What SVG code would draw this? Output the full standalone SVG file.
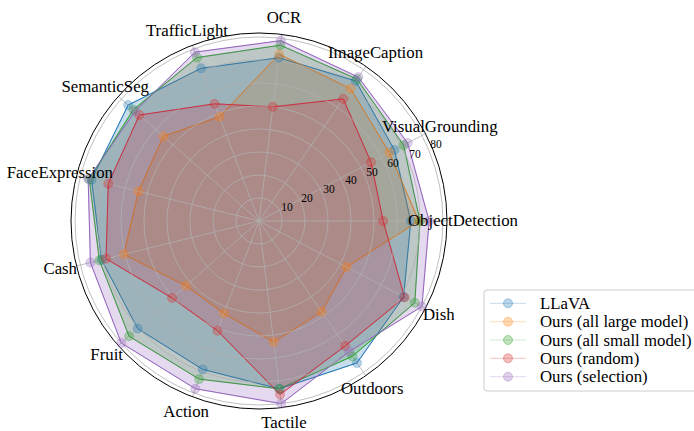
<svg xmlns="http://www.w3.org/2000/svg" width="694" height="431" viewBox="0 0 694 431" font-family="'Liberation Serif', 'Times New Roman', serif">
<style>
.cat{font-size:16.8px;font-family:"Liberation Serif",serif}
.tick{font-size:11.5px;font-family:"Liberation Serif",serif}
.leg{font-size:16.8px;font-family:"Liberation Serif",serif}
.grid{stroke:#b0b0b0;stroke-width:0.8;fill:none}
.fill{stroke:none;fill-opacity:0.25}
.ln{fill:none;stroke-width:1.2;stroke-opacity:0.22;stroke-linejoin:round}
.mk{fill-opacity:0.3;stroke-opacity:0.35;stroke-width:1}
.b{fill:#1f77b4;stroke:#1f77b4}
.o{fill:#ff7f0e;stroke:#ff7f0e}
.g{fill:#2ca02c;stroke:#2ca02c}
.r{fill:#d62728;stroke:#d62728}
.p{fill:#9467bd;stroke:#9467bd}
</style>
<defs>
<marker id="mb" markerWidth="12" markerHeight="12" refX="6" refY="6" markerUnits="userSpaceOnUse"><circle cx="6" cy="6" r="4.5" fill="#1f77b4" fill-opacity="0.3" stroke="#1f77b4" stroke-opacity="0.3"/></marker>
<marker id="mo" markerWidth="12" markerHeight="12" refX="6" refY="6" markerUnits="userSpaceOnUse"><circle cx="6" cy="6" r="4.5" fill="#ff7f0e" fill-opacity="0.3" stroke="#ff7f0e" stroke-opacity="0.3"/></marker>
<marker id="mg" markerWidth="12" markerHeight="12" refX="6" refY="6" markerUnits="userSpaceOnUse"><circle cx="6" cy="6" r="4.5" fill="#2ca02c" fill-opacity="0.3" stroke="#2ca02c" stroke-opacity="0.3"/></marker>
<marker id="mr" markerWidth="12" markerHeight="12" refX="6" refY="6" markerUnits="userSpaceOnUse"><circle cx="6" cy="6" r="4.5" fill="#d62728" fill-opacity="0.3" stroke="#d62728" stroke-opacity="0.3"/></marker>
<marker id="mp" markerWidth="12" markerHeight="12" refX="6" refY="6" markerUnits="userSpaceOnUse"><circle cx="6" cy="6" r="4.5" fill="#9467bd" fill-opacity="0.3" stroke="#9467bd" stroke-opacity="0.3"/></marker>
</defs>
<rect width="694" height="431" fill="#fff"/>

<g id="fills">
<polygon class="fill b" points="410.8,221 394.43,149.92 355.68,80.93 278.82,57.75 201.09,68.31 128.16,105.09 91.51,179.72 101.56,259.81 137.63,328.53 202.73,369.39 279.38,388.82 356.99,362.96 403.6,296.89"/>
<polygon class="fill o" points="418.85,221 389.34,152.59 350.46,88.5 279.24,54.32 219.44,116.7 163.45,136.35 138.41,191.28 123.89,254.3 185.83,285.82 223.93,313.47 273.69,342.01 321.71,311.86 346.57,266.96"/>
<polygon class="fill g" points="420,221 403.6,145.11 356.99,79.04 280.35,45.19 197.02,57.56 133.33,109.66 89.28,179.17 99.33,260.36 129.02,336.15 199.05,379.07 279.38,388.82 352.42,356.34 414.8,302.77"/>
<polygon class="fill r" points="383.2,221 371.01,162.21 343.27,98.91 272.86,106.84 214.55,103.8 139.35,115 108.26,183.85 106.03,258.7 172.06,298.02 217.41,330.68 280.07,394.53 345.23,345.93 404.61,297.42"/>
<polygon class="fill p" points="429.2,221 407.67,142.97 358.3,77.14 280.9,40.62 194.98,52.18 135.05,111.19 88.16,178.89 90.4,262.56 121.27,343.01 195.38,388.74 281.18,403.66 349.15,351.61 421.92,306.51"/>
</g>

<g id="grid">
<circle class="grid" cx="259" cy="221" r="23"/>
<circle class="grid" cx="259" cy="221" r="46"/>
<circle class="grid" cx="259" cy="221" r="69"/>
<circle class="grid" cx="259" cy="221" r="92"/>
<circle class="grid" cx="259" cy="221" r="115"/>
<circle class="grid" cx="259" cy="221" r="138"/>
<circle class="grid" cx="259" cy="221" r="161"/>
<circle class="grid" cx="259" cy="221" r="184"/>
<path class="grid" d="M259,221L447,221M259,221L425.47,133.63M259,221L365.8,66.28M259,221L281.66,34.37M259,221L192.34,45.22M259,221L118.28,96.33M259,221L76.46,176.01M259,221L76.46,265.99M259,221L118.28,345.67M259,221L192.34,396.78M259,221L281.66,407.63M259,221L365.8,375.72M259,221L425.47,308.37"/>
<circle cx="259" cy="221" r="188" fill="none" stroke="#000" stroke-width="1"/>
</g>

<g id="connectors">
<polygon class="ln b" points="410.8,221 394.43,149.92 355.68,80.93 278.82,57.75 201.09,68.31 128.16,105.09 91.51,179.72 101.56,259.81 137.63,328.53 202.73,369.39 279.38,388.82 356.99,362.96 403.6,296.89" style="fill:none" marker-start="url(#mb)" marker-mid="url(#mb)"/>
<polygon class="ln o" points="418.85,221 389.34,152.59 350.46,88.5 279.24,54.32 219.44,116.7 163.45,136.35 138.41,191.28 123.89,254.3 185.83,285.82 223.93,313.47 273.69,342.01 321.71,311.86 346.57,266.96" style="fill:none" marker-start="url(#mo)" marker-mid="url(#mo)"/>
<polygon class="ln g" points="420,221 403.6,145.11 356.99,79.04 280.35,45.19 197.02,57.56 133.33,109.66 89.28,179.17 99.33,260.36 129.02,336.15 199.05,379.07 279.38,388.82 352.42,356.34 414.8,302.77" style="fill:none" marker-start="url(#mg)" marker-mid="url(#mg)"/>
<polygon class="ln r" points="383.2,221 371.01,162.21 343.27,98.91 272.86,106.84 214.55,103.8 139.35,115 108.26,183.85 106.03,258.7 172.06,298.02 217.41,330.68 280.07,394.53 345.23,345.93 404.61,297.42" style="fill:none" marker-start="url(#mr)" marker-mid="url(#mr)"/>
<polygon class="ln p" points="429.2,221 407.67,142.97 358.3,77.14 280.9,40.62 194.98,52.18 135.05,111.19 88.16,178.89 90.4,262.56 121.27,343.01 195.38,388.74 281.18,403.66 349.15,351.61 421.92,306.51" style="fill:none" marker-start="url(#mp)" marker-mid="url(#mp)"/>
</g>

<g id="ticks" class="tick" text-anchor="middle">
<text x="287" y="211">10</text>
<text x="307" y="202">20</text>
<text x="329" y="193">30</text>
<text x="351" y="184">40</text>
<text x="372" y="176">50</text>
<text x="393" y="167">60</text>
<text x="415" y="158">70</text>
<text x="436" y="148">80</text>
</g>

<g id="labels" class="cat">
<text id="lbl-objectdetection" x="408" y="226">ObjectDetection</text>
<text id="lbl-visualgrounding" x="382" y="132">VisualGrounding</text>
<text id="lbl-imagecaption" x="328" y="58">ImageCaption</text>
<text id="lbl-ocr" x="284" y="23" text-anchor="middle">OCR</text>
<text id="lbl-trafficlight" x="228" y="36" text-anchor="end">TrafficLight</text>
<text id="lbl-semanticseg" x="149" y="92" text-anchor="end">SemanticSeg</text>
<text id="lbl-faceexpression" x="113" y="178" text-anchor="end">FaceExpression</text>
<text id="lbl-cash" x="77" y="274" text-anchor="end">Cash</text>
<text id="lbl-fruit" x="123" y="360" text-anchor="end">Fruit</text>
<text id="lbl-action" x="209" y="417" text-anchor="end">Action</text>
<text id="lbl-tactile" x="284" y="428" text-anchor="middle">Tactile</text>
<text id="lbl-outdoors" x="341" y="394">Outdoors</text>
<text id="lbl-dish" x="423" y="320">Dish</text>
</g>

<g id="legend">
<rect x="484" y="290" width="216" height="101" rx="3" fill="#fff" fill-opacity="0.8" stroke="#cccccc" stroke-width="1"/>
<g id="leg-llava"><line class="ln b" x1="490" y1="303.3" x2="526" y2="303.3"/><circle class="mk b" cx="508" cy="303.3" r="4.5"/><text class="leg" x="540" y="309">LLaVA</text></g>
<g id="leg-large"><line class="ln o" x1="490" y1="321.7" x2="526" y2="321.7"/><circle class="mk o" cx="508" cy="321.7" r="4.5"/><text class="leg" x="540" y="327.4">Ours (all large model)</text></g>
<g id="leg-small"><line class="ln g" x1="490" y1="340" x2="526" y2="340"/><circle class="mk g" cx="508" cy="340" r="4.5"/><text class="leg" x="540" y="345.7">Ours (all small model)</text></g>
<g id="leg-random"><line class="ln r" x1="490" y1="358.3" x2="526" y2="358.3"/><circle class="mk r" cx="508" cy="358.3" r="4.5"/><text class="leg" x="540" y="364">Ours (random)</text></g>
<g id="leg-selection"><line class="ln p" x1="490" y1="376.7" x2="526" y2="376.7"/><circle class="mk p" cx="508" cy="376.7" r="4.5"/><text class="leg" x="540" y="382.4">Ours (selection)</text></g>
</g>
</svg>
